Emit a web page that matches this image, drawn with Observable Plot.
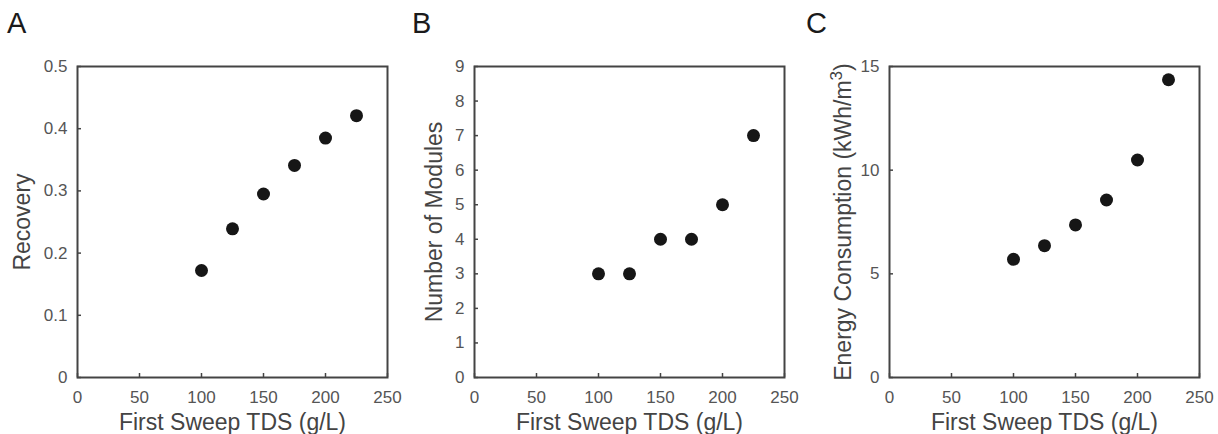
<!DOCTYPE html>
<html>
<head>
<meta charset="utf-8">
<script src="https://cdn.jsdelivr.net/npm/d3@7"></script>
<script src="https://cdn.jsdelivr.net/npm/@observablehq/plot@0.6"></script>
<style>
  html, body { margin: 0; padding: 0; background: #fff; }
  #wrap { position: relative; width: 1218px; height: 434px; overflow: hidden; font-family: "Liberation Sans", Arial, sans-serif; }
  .panel { position: absolute; top: 40px; }
  .letter { position: absolute; font-size: 29px; line-height: 1; color: #1a1a1a; top: 9px; }
</style>
</head>
<body>
<div id="wrap"></div>
<script>
// ---- data ----
const tds = [100, 125, 150, 175, 200, 225];
const recovery = [0.172, 0.239, 0.295, 0.341, 0.385, 0.421];
const modules = [3, 3, 4, 4, 5, 7];
const energy = [5.70, 6.36, 7.36, 8.56, 10.49, 14.36];

const xTicks = [0, 50, 100, 150, 200, 250];
const yTicksA = [0, 0.1, 0.2, 0.3, 0.4, 0.5];
const yTicksB = [0, 1, 2, 3, 4, 5, 6, 7, 8, 9];
const yTicksC = [0, 5, 10, 15];

const xLabel = "First Sweep TDS (g/L)";
const panelLetters = ["A", "B", "C"];

const panels = [
  {letter: panelLetters[0], left: 0, letterLeft: 7, values: recovery, yTicks: yTicksA, yLabel: "Recovery", marginLeft: 77, marginRight: 23, labelOffset: 64},
  {letter: panelLetters[1], left: 400, letterLeft: 412, values: modules, yTicks: yTicksB, yLabel: "Number of Modules", marginLeft: 74, marginRight: 26, labelOffset: 49},
  {letter: panelLetters[2], left: 808, letterLeft: 806, values: energy, yTicks: yTicksC, yLabel: "Energy Consumption (kWh/m³)", marginLeft: 81, marginRight: 19, labelOffset: 55}
];

const wrap = document.getElementById("wrap");
const frameColor = "#444";
const SVGNS = "http://www.w3.org/2000/svg";

for (const p of panels) {
  const rows = tds.map((t, i) => ({tds: t, v: p.values[i]}));
  const yDom = [p.yTicks[0], p.yTicks[p.yTicks.length - 1]];
  const chart = Plot.plot({
    width: 410,
    height: 394,
    marginTop: 26,
    marginBottom: 57,
    marginLeft: p.marginLeft,
    marginRight: p.marginRight,
    style: {fontFamily: "Liberation Sans, Arial, sans-serif", fontSize: "17px", color: "#555", background: "transparent", overflow: "visible"},
    x: {domain: [0, 250]},
    y: {domain: yDom},
    marks: [
      Plot.frame({stroke: frameColor, strokeWidth: 2}),
      Plot.axisX({ticks: xTicks, tickSize: -4, tickPadding: 17, stroke: frameColor, strokeWidth: 1.5, label: null, fill: "#555", fontSize: 17, tickFormat: d => String(d)}),
      Plot.axisY({ticks: p.yTicks, tickSize: -4, tickPadding: 14, stroke: frameColor, strokeWidth: 1.5, label: null, fill: "#555", fontSize: 17, tickFormat: d => String(d)}),
      Plot.text([xLabel], {frameAnchor: "bottom", textAnchor: "middle", dy: 36, lineAnchor: "top", fontSize: 23, fill: "#444"}),
      Plot.text([p.yLabel], {frameAnchor: "left", textAnchor: "middle", rotate: -90, dx: -p.labelOffset, lineAnchor: "top", fontSize: 23, fill: "#444"}),
      Plot.dot(rows, {x: "tds", y: "v", r: 6.5, fill: "#161616", stroke: "none"})
    ]
  });
  // render superscript "3" as a raised tspan
  chart.querySelectorAll("text").forEach(t => {
    const s = t.textContent;
    if (s.includes("³")) {
      const [before, after] = s.split("³");
      const tsp = t.querySelector("tspan");
      const host = tsp || t;
      host.textContent = "";
      const a = document.createElementNS(SVGNS, "tspan"); a.textContent = before;
      const b = document.createElementNS(SVGNS, "tspan"); b.textContent = "3";
      b.setAttribute("dy", "-9"); b.setAttribute("font-size", "17");
      const c = document.createElementNS(SVGNS, "tspan"); c.textContent = after;
      c.setAttribute("dy", "9");
      host.append(a, b, c);
    }
  });
  chart.classList.add("panel");
  chart.style.left = p.left + "px";
  wrap.appendChild(chart);
  const L = document.createElement("div");
  L.className = "letter";
  L.style.left = p.letterLeft + "px";
  L.textContent = p.letter;
  wrap.appendChild(L);
}
</script>
</body>
</html>
